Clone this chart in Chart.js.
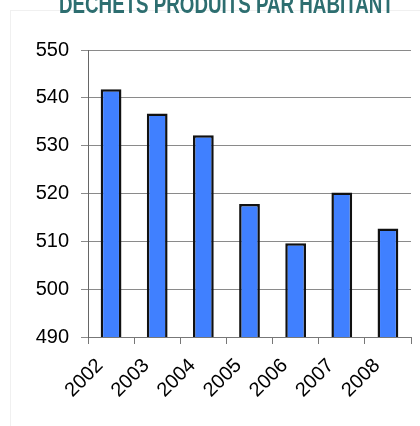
<!DOCTYPE html>
<html>
<head>
<meta charset="utf-8">
<script src="https://cdn.jsdelivr.net/npm/chart.js@4"></script>
<style>
    html, body { margin: 0; padding: 0; background: #fff; }
    .wrap { position: relative; width: 420px; height: 426px; overflow: hidden; }
    .frame { position: absolute; left: 10px; top: 10px; right: -2px; bottom: -2px; border: 1px solid #f0f0f0; }
    .title {
        position: absolute; left: 9px; width: 400px; top: -10px; text-align: center;
        font-family: "Liberation Sans", Arial, sans-serif;
        font-weight: bold; font-size: 25px; color: #2d6e70; white-space: nowrap;
        transform: scaleX(0.75); transform-origin: 200px 0;
    }
    canvas { position: absolute; left: 0; top: 0; }
</style>
</head>
<body>
<div class="wrap">
    <div class="frame"></div>
    <canvas id="chart" width="420" height="426"></canvas>
    <div class="title">DECHETS PRODUITS PAR HABITANT</div>
</div>
<script>
// Données
const annees = ['2002', '2003', '2004', '2005', '2006', '2007', '2008'];
const dechets = [541.8, 536.7, 532.2, 517.8, 509.6, 520.2, 512.7];
const graduations = [490, 500, 510, 520, 530, 540, 550];

document.addEventListener("DOMContentLoaded", function() {
    const ctx = document.getElementById('chart');

    new Chart(ctx, {
        type: 'bar',
        data: {
            labels: annees,
            datasets: [{
                data: dechets,
                backgroundColor: '#4080ff',
                borderColor: '#111111',
                borderWidth: 2.5,
                borderSkipped: false,
                categoryPercentage: 1,
                barPercentage: 0.45
            }]
        },
        options: {
            responsive: false,
            animation: false,
            layout: {
                padding: { left: 0, right: 9, top: 50, bottom: 0 }
            },
            plugins: {
                legend: { display: false },
                tooltip: { enabled: false }
            },
            scales: {
                x: {
                    afterFit: function(scale) { scale.height = 89; },
                    grid: {
                        drawOnChartArea: false,
                        offset: true,
                        tickLength: 7,
                        color: '#777'
                    },
                    border: { color: '#777', width: 1 },
                    ticks: {
                        minRotation: 45,
                        maxRotation: 45,
                        padding: 10,
                        labelOffset: -11,
                        color: '#000',
                        font: { family: 'Liberation Sans, Arial, sans-serif', size: 20 }
                    }
                },
                y: {
                    min: graduations[0],
                    max: graduations[graduations.length - 1],
                    afterFit: function(scale) { scale.width = 88; },
                    afterBuildTicks: function(scale) {
                        scale.ticks = graduations.map(v => ({ value: v }));
                    },
                    grid: {
                        tickLength: 7,
                        color: '#8a8a8a'
                    },
                    border: { color: '#666', width: 1 },
                    ticks: {
                        padding: 12,
                        color: '#000',
                        font: { family: 'Liberation Sans, Arial, sans-serif', size: 20 }
                    }
                }
            }
        }
    });
});
</script>
</body>
</html>
